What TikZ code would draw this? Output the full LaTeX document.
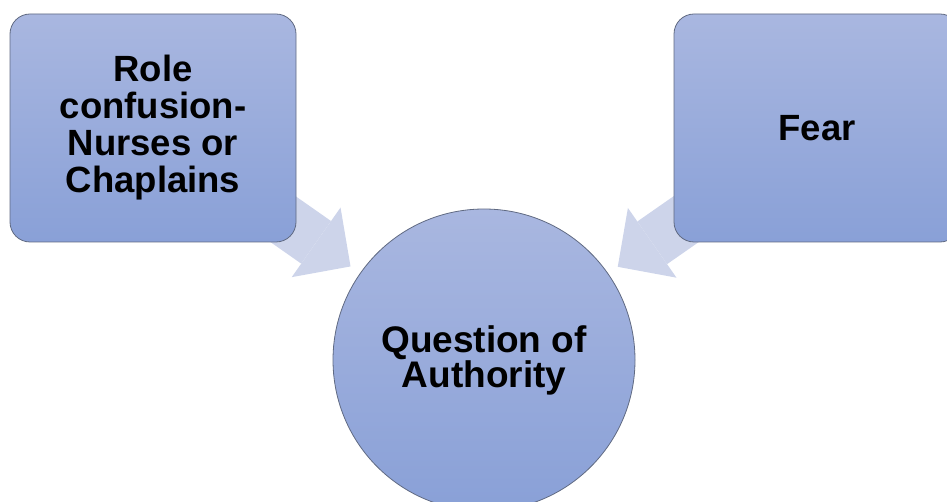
\documentclass[tikz,border=0pt]{standalone}
\usepackage{fontspec}
\setmainfont{Liberation Sans}
\usetikzlibrary{arrows.meta,backgrounds}

\definecolor{shadetop}{RGB}{169,183,224}
\definecolor{shadebot}{RGB}{137,160,215}
\definecolor{rimgray}{RGB}{96,106,130}
\definecolor{feedblue}{RGB}{205,212,234}

\begin{document}
\begin{tikzpicture}[x=1pt,y=-1pt,
	card/.style={draw=rimgray, line width=0.8pt, rounded corners=20pt,
		top color=shadetop, bottom color=shadebot,
		minimum width=286pt, minimum height=228pt, inner sep=0pt,
		align=center, font=\fontsize{36.5}{37}\selectfont\bfseries},
	hub/.style={circle, draw=rimgray, line width=0.8pt,
		top color=shadetop, bottom color=shadebot,
		minimum size=302pt, inner sep=0pt,
		align=center, font=\fontsize{37}{31}\selectfont\bfseries},
	feed/.style={draw=feedblue, line width=52pt,
		-{Triangle[width=85pt,length=42pt,line width=0pt]},
		shorten <=131pt, shorten >=163pt}]
	\useasboundingbox (0,0) rectangle (947,502);
	% the three shapes
	\node [card] (role) at (153,128) {Role\\confusion-\\Nurses or\\Chaplains};
	\node [card] (fear) at (817,128) {Fear};
	\node [hub] (authority) at (484,360) {Question of\\Authority};
	% block arrows behind them
	\begin{scope}[on background layer]
		\draw [feed] (role.center) -- (authority.center);
		\draw [feed] (fear.center) -- (authority.center);
	\end{scope}
\end{tikzpicture}
\end{document}
